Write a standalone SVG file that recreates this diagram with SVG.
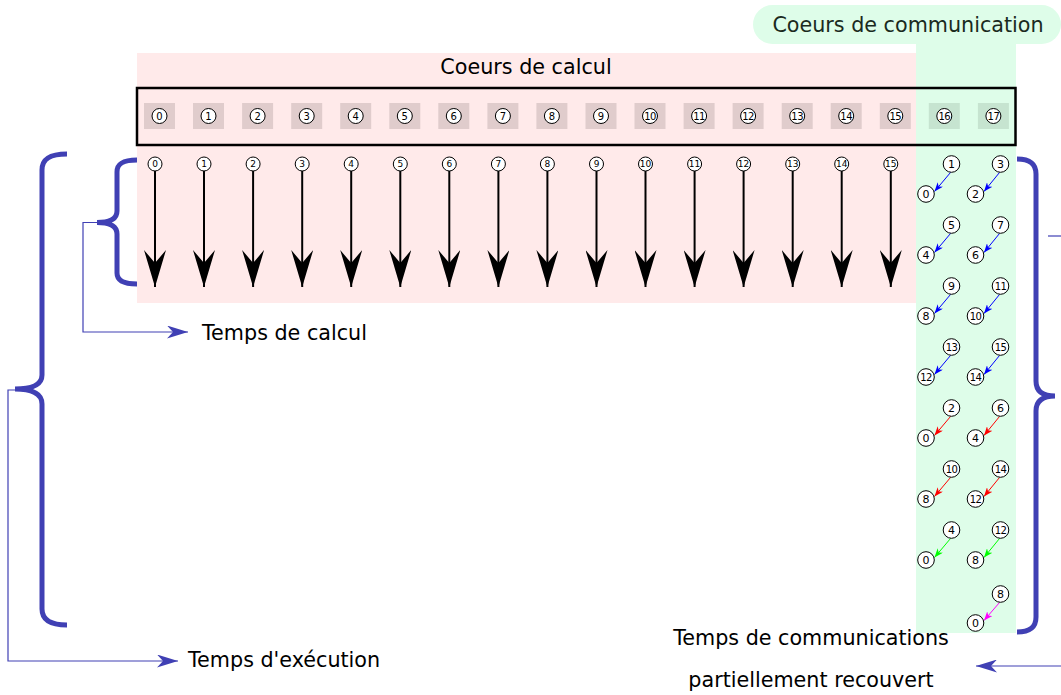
<svg xmlns="http://www.w3.org/2000/svg" width="1061" height="695" viewBox="0 0 1061 695">
<style>
text{font-family:"DejaVu Sans","Liberation Sans",sans-serif;fill:#000}
.lbl{font-size:20.7px}
.cc{fill:#e0cccc}
.gc{fill:#c6e4d0}
.n{fill:#fff;stroke:#000;stroke-width:1}
.t10{font-size:10px;text-anchor:middle;dominant-baseline:central}
.t9{font-size:9px;text-anchor:middle;dominant-baseline:central}
.t11{font-size:11px;text-anchor:middle;dominant-baseline:central}
.t10d{font-size:10px;text-anchor:middle;dominant-baseline:central;letter-spacing:-0.5px}
.big{stroke:#000;stroke-width:2;fill:none;marker-end:url(#bigHead)}
.brace{fill:none;stroke:#4040b4;stroke-width:5}
.thin{fill:none;stroke:#4040b4;stroke-width:1.2}
.b{stroke:#0000ff;stroke-width:1;marker-end:url(#hb)}
.r{stroke:#ff0000;stroke-width:1;marker-end:url(#hr)}
.g{stroke:#00ff00;stroke-width:1;marker-end:url(#hg)}
.m{stroke:#ff00ff;stroke-width:1;marker-end:url(#hm)}
</style>
<defs>
<marker id="bigHead" viewBox="0 0 37 22" refX="37" refY="11" markerWidth="37" markerHeight="22" markerUnits="userSpaceOnUse" orient="auto"><path d="M0,0 L37,11 L0,22 L13,11 z" fill="#000"/></marker>
<marker id="blueHead" viewBox="0 0 21 13" refX="21" refY="6.5" markerWidth="21" markerHeight="13" markerUnits="userSpaceOnUse" orient="auto"><path d="M0,0 L21,6.5 L0,13 L6,6.5 z" fill="#4040b4"/></marker>
<marker id="hb" viewBox="0 0 9 7" refX="9" refY="3.5" markerWidth="9" markerHeight="7" markerUnits="userSpaceOnUse" orient="auto"><path d="M0,0 L9,3.5 L0,7 L2.5,3.5 z" fill="#0000ff"/></marker>
<marker id="hr" viewBox="0 0 9 7" refX="9" refY="3.5" markerWidth="9" markerHeight="7" markerUnits="userSpaceOnUse" orient="auto"><path d="M0,0 L9,3.5 L0,7 L2.5,3.5 z" fill="#ff0000"/></marker>
<marker id="hg" viewBox="0 0 9 7" refX="9" refY="3.5" markerWidth="9" markerHeight="7" markerUnits="userSpaceOnUse" orient="auto"><path d="M0,0 L9,3.5 L0,7 L2.5,3.5 z" fill="#00ff00"/></marker>
<marker id="hm" viewBox="0 0 9 7" refX="9" refY="3.5" markerWidth="9" markerHeight="7" markerUnits="userSpaceOnUse" orient="auto"><path d="M0,0 L9,3.5 L0,7 L2.5,3.5 z" fill="#ff00ff"/></marker>
</defs>

<g id="backgrounds">
<rect x="137" y="53" width="779" height="250" fill="#ffeaea"/>
<rect x="916" y="44" width="100" height="589" fill="#defde9"/>
</g>

<g id="label-comm">
<rect x="753" y="5" width="308" height="39" rx="19.5" fill="#defde9"/>
<text class="lbl" x="908" y="32" text-anchor="middle" style="fill:#1a2a20">Coeurs de communication</text>
</g>
<g id="label-calc"><text class="lbl" x="526" y="74" text-anchor="middle">Coeurs de calcul</text></g>

<g id="cores">
<rect x="137" y="88" width="878.5" height="57" fill="none" stroke="#000" stroke-width="2.5"/>
<g id="core-0"><rect class="cc" x="144" y="103" width="31" height="26"/><circle class="n" cx="159.5" cy="116" r="7.5"/><text class="t10" x="159.5" y="116">0</text></g>
<g id="core-1"><rect class="cc" x="193" y="103" width="31" height="26"/><circle class="n" cx="208.5" cy="116" r="7.5"/><text class="t10" x="208.5" y="116">1</text></g>
<g id="core-2"><rect class="cc" x="242.1" y="103" width="31" height="26"/><circle class="n" cx="257.6" cy="116" r="7.5"/><text class="t10" x="257.6" y="116">2</text></g>
<g id="core-3"><rect class="cc" x="291.2" y="103" width="31" height="26"/><circle class="n" cx="306.7" cy="116" r="7.5"/><text class="t10" x="306.7" y="116">3</text></g>
<g id="core-4"><rect class="cc" x="340.2" y="103" width="31" height="26"/><circle class="n" cx="355.7" cy="116" r="7.5"/><text class="t10" x="355.7" y="116">4</text></g>
<g id="core-5"><rect class="cc" x="389.3" y="103" width="31" height="26"/><circle class="n" cx="404.8" cy="116" r="7.5"/><text class="t10" x="404.8" y="116">5</text></g>
<g id="core-6"><rect class="cc" x="438.3" y="103" width="31" height="26"/><circle class="n" cx="453.8" cy="116" r="7.5"/><text class="t10" x="453.8" y="116">6</text></g>
<g id="core-7"><rect class="cc" x="487.4" y="103" width="31" height="26"/><circle class="n" cx="502.9" cy="116" r="7.5"/><text class="t10" x="502.9" y="116">7</text></g>
<g id="core-8"><rect class="cc" x="536.4" y="103" width="31" height="26"/><circle class="n" cx="551.9" cy="116" r="7.5"/><text class="t10" x="551.9" y="116">8</text></g>
<g id="core-9"><rect class="cc" x="585.5" y="103" width="31" height="26"/><circle class="n" cx="601" cy="116" r="7.5"/><text class="t10" x="601" y="116">9</text></g>
<g id="core-10"><rect class="cc" x="634.5" y="103" width="31" height="26"/><circle class="n" cx="650" cy="116" r="7.5"/><text class="t10d" x="650" y="116">10</text></g>
<g id="core-11"><rect class="cc" x="683.6" y="103" width="31" height="26"/><circle class="n" cx="699.1" cy="116" r="7.5"/><text class="t10d" x="699.1" y="116">11</text></g>
<g id="core-12"><rect class="cc" x="732.6" y="103" width="31" height="26"/><circle class="n" cx="748.1" cy="116" r="7.5"/><text class="t10d" x="748.1" y="116">12</text></g>
<g id="core-13"><rect class="cc" x="781.7" y="103" width="31" height="26"/><circle class="n" cx="797.2" cy="116" r="7.5"/><text class="t10d" x="797.2" y="116">13</text></g>
<g id="core-14"><rect class="cc" x="830.7" y="103" width="31" height="26"/><circle class="n" cx="846.2" cy="116" r="7.5"/><text class="t10d" x="846.2" y="116">14</text></g>
<g id="core-15"><rect class="cc" x="879.8" y="103" width="31" height="26"/><circle class="n" cx="895.3" cy="116" r="7.5"/><text class="t10d" x="895.3" y="116">15</text></g>
<g id="core-16"><rect class="gc" x="928.8" y="103" width="31" height="26"/><circle class="n" cx="944.3" cy="116" r="7.5"/><text class="t10d" x="944.3" y="116">16</text></g>
<g id="core-17"><rect class="gc" x="977.9" y="103" width="31" height="26"/><circle class="n" cx="993.4" cy="116" r="7.5"/><text class="t10d" x="993.4" y="116">17</text></g>
</g>

<g id="compute-arrows">
<g id="calc-0"><line class="big" x1="155" y1="171" x2="155" y2="287"/><circle class="n" cx="155" cy="164" r="7"/><text class="t9" x="155" y="164">0</text></g>
<g id="calc-1"><line class="big" x1="204" y1="171" x2="204" y2="287"/><circle class="n" cx="204" cy="164" r="7"/><text class="t9" x="204" y="164">1</text></g>
<g id="calc-2"><line class="big" x1="253.1" y1="171" x2="253.1" y2="287"/><circle class="n" cx="253.1" cy="164" r="7"/><text class="t9" x="253.1" y="164">2</text></g>
<g id="calc-3"><line class="big" x1="302.2" y1="171" x2="302.2" y2="287"/><circle class="n" cx="302.2" cy="164" r="7"/><text class="t9" x="302.2" y="164">3</text></g>
<g id="calc-4"><line class="big" x1="351.2" y1="171" x2="351.2" y2="287"/><circle class="n" cx="351.2" cy="164" r="7"/><text class="t9" x="351.2" y="164">4</text></g>
<g id="calc-5"><line class="big" x1="400.3" y1="171" x2="400.3" y2="287"/><circle class="n" cx="400.3" cy="164" r="7"/><text class="t9" x="400.3" y="164">5</text></g>
<g id="calc-6"><line class="big" x1="449.3" y1="171" x2="449.3" y2="287"/><circle class="n" cx="449.3" cy="164" r="7"/><text class="t9" x="449.3" y="164">6</text></g>
<g id="calc-7"><line class="big" x1="498.4" y1="171" x2="498.4" y2="287"/><circle class="n" cx="498.4" cy="164" r="7"/><text class="t9" x="498.4" y="164">7</text></g>
<g id="calc-8"><line class="big" x1="547.4" y1="171" x2="547.4" y2="287"/><circle class="n" cx="547.4" cy="164" r="7"/><text class="t9" x="547.4" y="164">8</text></g>
<g id="calc-9"><line class="big" x1="596.5" y1="171" x2="596.5" y2="287"/><circle class="n" cx="596.5" cy="164" r="7"/><text class="t9" x="596.5" y="164">9</text></g>
<g id="calc-10"><line class="big" x1="645.5" y1="171" x2="645.5" y2="287"/><circle class="n" cx="645.5" cy="164" r="7"/><text class="t9" x="645.5" y="164">10</text></g>
<g id="calc-11"><line class="big" x1="694.6" y1="171" x2="694.6" y2="287"/><circle class="n" cx="694.6" cy="164" r="7"/><text class="t9" x="694.6" y="164">11</text></g>
<g id="calc-12"><line class="big" x1="743.6" y1="171" x2="743.6" y2="287"/><circle class="n" cx="743.6" cy="164" r="7"/><text class="t9" x="743.6" y="164">12</text></g>
<g id="calc-13"><line class="big" x1="792.7" y1="171" x2="792.7" y2="287"/><circle class="n" cx="792.7" cy="164" r="7"/><text class="t9" x="792.7" y="164">13</text></g>
<g id="calc-14"><line class="big" x1="841.7" y1="171" x2="841.7" y2="287"/><circle class="n" cx="841.7" cy="164" r="7"/><text class="t9" x="841.7" y="164">14</text></g>
<g id="calc-15"><line class="big" x1="890.8" y1="171" x2="890.8" y2="287"/><circle class="n" cx="890.8" cy="164" r="7"/><text class="t9" x="890.8" y="164">15</text></g>
</g>

<g id="comm-arrows">
<line class="b" x1="950.5" y1="172.5" x2="934.5" y2="191.5"/>
<line class="b" x1="999.5" y1="172.5" x2="984" y2="191.5"/>
<line class="b" x1="950.5" y1="233.5" x2="934.5" y2="252.5"/>
<line class="b" x1="999.5" y1="233.5" x2="984" y2="252.5"/>
<line class="b" x1="950.5" y1="294.5" x2="934.5" y2="313.5"/>
<line class="b" x1="999.5" y1="294.5" x2="984" y2="313.5"/>
<line class="b" x1="950.5" y1="355.5" x2="934.5" y2="374.5"/>
<line class="b" x1="999.5" y1="355.5" x2="984" y2="374.5"/>
<line class="r" x1="950.5" y1="416.5" x2="934.5" y2="435.5"/>
<line class="r" x1="999.5" y1="416.5" x2="984" y2="435.5"/>
<line class="r" x1="950.5" y1="477.5" x2="934.5" y2="496.5"/>
<line class="r" x1="999.5" y1="477.5" x2="984" y2="496.5"/>
<line class="g" x1="950.5" y1="538.5" x2="934.5" y2="557.5"/>
<line class="g" x1="999.5" y1="538.5" x2="984" y2="557.5"/>
<line class="m" x1="999.5" y1="602.5" x2="984" y2="620.5"/>
</g>

<g id="comm-nodes">
<g id="c-1"><circle class="n" cx="951.5" cy="164" r="8.3"/><text class="t11" x="951.5" y="164">1</text></g>
<g id="c-0a"><circle class="n" cx="926" cy="194" r="8.3"/><text class="t11" x="926" y="194">0</text></g>
<g id="c-3"><circle class="n" cx="1000.5" cy="164" r="8.3"/><text class="t11" x="1000.5" y="164">3</text></g>
<g id="c-2a"><circle class="n" cx="975.5" cy="194" r="8.3"/><text class="t11" x="975.5" y="194">2</text></g>
<g id="c-5"><circle class="n" cx="951.5" cy="225" r="8.3"/><text class="t11" x="951.5" y="225">5</text></g>
<g id="c-4a"><circle class="n" cx="926" cy="255" r="8.3"/><text class="t11" x="926" y="255">4</text></g>
<g id="c-7"><circle class="n" cx="1000.5" cy="225" r="8.3"/><text class="t11" x="1000.5" y="225">7</text></g>
<g id="c-6a"><circle class="n" cx="975.5" cy="255" r="8.3"/><text class="t11" x="975.5" y="255">6</text></g>
<g id="c-9"><circle class="n" cx="951.5" cy="286" r="8.3"/><text class="t11" x="951.5" y="286">9</text></g>
<g id="c-8a"><circle class="n" cx="926" cy="316" r="8.3"/><text class="t11" x="926" y="316">8</text></g>
<g id="c-11"><circle class="n" cx="1000.5" cy="286" r="8.3"/><text class="t10d" x="1000.5" y="286">11</text></g>
<g id="c-10a"><circle class="n" cx="975.5" cy="316" r="8.3"/><text class="t10d" x="975.5" y="316">10</text></g>
<g id="c-13"><circle class="n" cx="951.5" cy="347" r="8.3"/><text class="t10d" x="951.5" y="347">13</text></g>
<g id="c-12a"><circle class="n" cx="926" cy="377" r="8.3"/><text class="t10d" x="926" y="377">12</text></g>
<g id="c-15"><circle class="n" cx="1000.5" cy="347" r="8.3"/><text class="t10d" x="1000.5" y="347">15</text></g>
<g id="c-14a"><circle class="n" cx="975.5" cy="377" r="8.3"/><text class="t10d" x="975.5" y="377">14</text></g>
<g id="c-2"><circle class="n" cx="951.5" cy="408" r="8.3"/><text class="t11" x="951.5" y="408">2</text></g>
<g id="c-0b"><circle class="n" cx="926" cy="438" r="8.3"/><text class="t11" x="926" y="438">0</text></g>
<g id="c-6"><circle class="n" cx="1000.5" cy="408" r="8.3"/><text class="t11" x="1000.5" y="408">6</text></g>
<g id="c-4b"><circle class="n" cx="975.5" cy="438" r="8.3"/><text class="t11" x="975.5" y="438">4</text></g>
<g id="c-10"><circle class="n" cx="951.5" cy="469" r="8.3"/><text class="t10d" x="951.5" y="469">10</text></g>
<g id="c-8b"><circle class="n" cx="926" cy="499" r="8.3"/><text class="t11" x="926" y="499">8</text></g>
<g id="c-14"><circle class="n" cx="1000.5" cy="469" r="8.3"/><text class="t10d" x="1000.5" y="469">14</text></g>
<g id="c-12b"><circle class="n" cx="975.5" cy="499" r="8.3"/><text class="t10d" x="975.5" y="499">12</text></g>
<g id="c-4"><circle class="n" cx="951.5" cy="530" r="8.3"/><text class="t11" x="951.5" y="530">4</text></g>
<g id="c-0c"><circle class="n" cx="926" cy="560" r="8.3"/><text class="t11" x="926" y="560">0</text></g>
<g id="c-12"><circle class="n" cx="1000.5" cy="530" r="8.3"/><text class="t10d" x="1000.5" y="530">12</text></g>
<g id="c-8c"><circle class="n" cx="975.5" cy="560" r="8.3"/><text class="t11" x="975.5" y="560">8</text></g>
<g id="c-8"><circle class="n" cx="1000.5" cy="594" r="8.3"/><text class="t11" x="1000.5" y="594">8</text></g>
<g id="c-0d"><circle class="n" cx="975.5" cy="623" r="8.3"/><text class="t11" x="975.5" y="623">0</text></g>
</g>

<g id="braces">
<path class="brace" d="M137,160 C124,160 117,163 117,172 L117,211 C117,218 111,222.5 97,222.5 C111,222.5 117,227 117,234 L117,273 C117,281 124,284 137,284"/>
<path class="brace" d="M67,154 C51,154 42,158 42,170 L42,375 C42,384 33,389 15,389 C33,389 42,394 42,404 L42,609 C42,620 51,625 67,625"/>
<path class="brace" d="M1017,159 C1029,159 1036,163 1036,174 L1036,381 C1036,391 1042,396 1055,396 C1042,396 1036,401 1036,411 L1036,617 C1036,628 1029,632 1017,632"/>
</g>

<g id="connectors">
<path class="thin" d="M97,222.5 H83 V332 H188" marker-end="url(#blueHead)"/>
<path class="thin" d="M15,390 H8 V661 H178" marker-end="url(#blueHead)"/>
<path class="thin" d="M1048,236 H1070"/>
<path class="thin" d="M1070,666 H976" marker-end="url(#blueHead)"/>
</g>

<g id="labels">
<text class="lbl" x="202" y="340">Temps de calcul</text>
<text class="lbl" x="188" y="667">Temps d'exécution</text>
<text class="lbl" x="811" y="645" text-anchor="middle">Temps de communications</text>
<text class="lbl" x="811" y="687" text-anchor="middle">partiellement recouvert</text>
</g>
</svg>
